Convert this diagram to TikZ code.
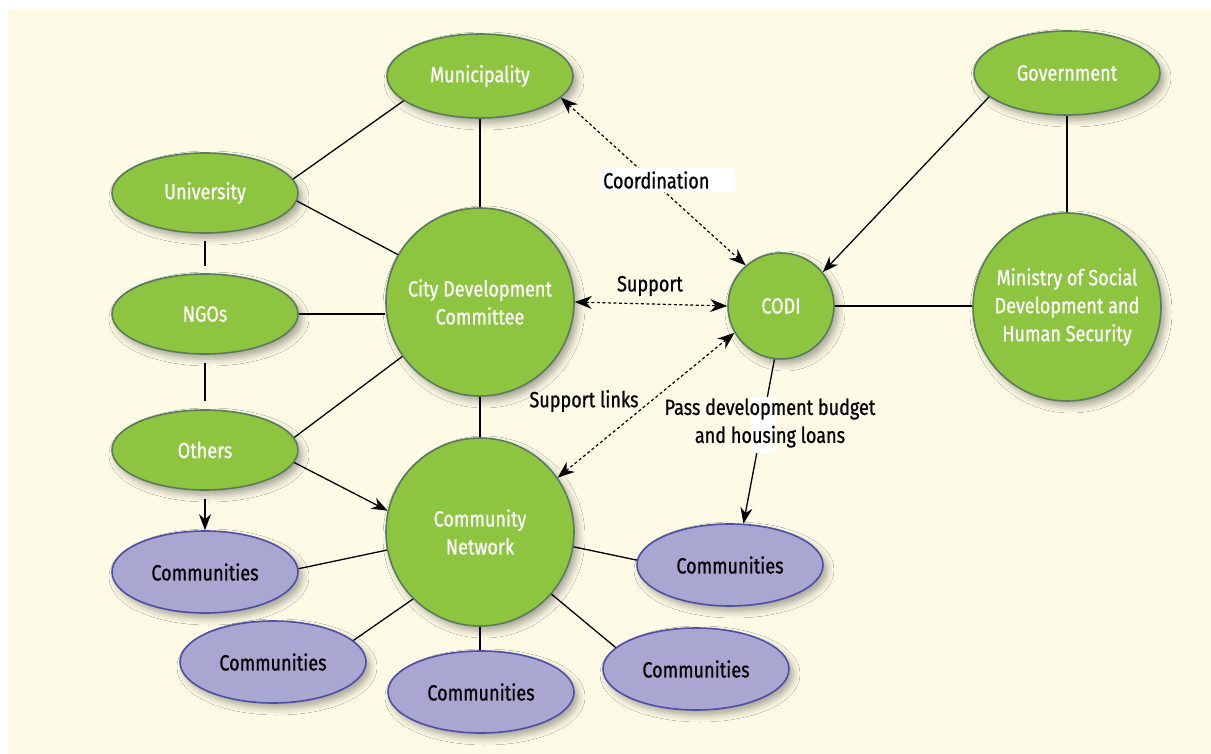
\documentclass[tikz,border=0pt]{standalone}
\usepackage{fontspec}
\setmainfont{Fira Sans}[FakeStretch=0.82,FakeBold=0.8]
\usetikzlibrary{arrows.meta,shapes.geometric,shadows.blur}
\definecolor{bg}{HTML}{FDFAE6}
\definecolor{gfill}{HTML}{8DC540}
\definecolor{gdraw}{HTML}{5B7B5A}
\definecolor{pfill}{HTML}{A9A7D1}
\definecolor{pdraw}{HTML}{4C4FA3}
\tikzset{
  txt/.style={font=\fontsize{22}{28}\selectfont},
  shad/.style={blur shadow={shadow xshift=4pt, shadow yshift=-5pt, shadow blur radius=7pt, shadow opacity=35}},
  gell/.style={ellipse, shad, fill=gfill, draw=gdraw, line width=1.6pt, minimum width=186pt, minimum height=84pt, inner sep=0pt, text=white, txt, align=center},
  gcirc/.style={circle, shad, fill=gfill, draw=gdraw, line width=1.6pt, inner sep=0pt, text=white, txt, align=center},
  pell/.style={ellipse, shad, fill=pfill, draw=pdraw, line width=1.6pt, minimum width=186pt, minimum height=82pt, inner sep=0pt, text=black, txt},
  conn/.style={black, line width=1.3pt},
  arr/.style={conn, -{Stealth[length=16pt,width=12pt]}},
  darr/.style={black, line width=1.2pt, dash pattern=on 3pt off 2.5pt, {Stealth[length=17pt,width=13pt]}-{Stealth[length=17pt,width=13pt]}},
  lbl/.style={txt, text=black, inner sep=0pt}
}
\begin{document}
\begin{tikzpicture}[x=1pt,y=-1pt]
\useasboundingbox (0,0) rectangle (1211,754);
\fill[bg] (8,10) rectangle (1211,754);
% nodes
\node[gell] (muni) at (480,76) {Municipality};
\node[gell] (gov) at (1067,73) {Government};
\node[gell, minimum height=80pt] (univ) at (205,193) {University};
\node[gell, minimum height=80pt] (ngo) at (205,314) {NGOs};
\node[gell, minimum height=80pt] (oth) at (205,450) {Others};
\node[gcirc, minimum size=188pt] (cdc) at (480,302) {City Development\\Committee};
\node[gcirc, minimum size=188pt] (cn) at (480,532) {Community\\Network};
\node[gcirc, minimum size=106pt] (codi) at (781,306) {CODI};
\node[gcirc, minimum size=188pt] (min) at (1067,307) {Ministry of Social\\Development and\\Human Security};
\node[pell] (cl) at (205,572) {Communities};
\node[pell] (cr) at (730,565) {Communities};
\node[pell] (cbl) at (273,662) {Communities};
\node[pell] (cbc) at (481,692) {Communities};
\node[pell] (cbr) at (696,669) {Communities};
% solid connectors
\draw[conn] (muni.south) -- (cdc.north);
\draw[conn] (muni.198) -- (univ.9);
\draw[conn] (univ.-5) -- (cdc.150);
\draw[conn, shorten <=7pt, shorten >=7pt] (univ.south) -- (ngo.north);
\draw[conn] (ngo.east) -- (ngo.east -| cdc.west);
\draw[conn, shorten <=8pt, shorten >=8pt] (ngo.south) -- (oth.north);
\draw[conn] (oth.8) -- (cdc.215);
\draw[arr] (oth.-8) -- (cn.167);
\draw[arr, shorten <=8pt] (oth.south) -- (cl.north);
\draw[conn] (cdc.south) -- (cn.north);
\draw[conn] (cn.191) -- (cl.2);
\draw[conn] (cn.225) -- (cbl.15);
\draw[conn] (cn.south) -- (cn.south |- cbc.north);
\draw[conn] (cn.-41) -- (cbr.165);
\draw[conn] (cn.-9) -- (cr.177);
\draw[conn] (gov.south) -- (min.north);
\draw[conn] (codi.east) -- (codi.east -| min.west);
\draw[arr] (gov.197) -- (codi.39);
\draw[arr] (codi.263) -- (cr.72);
% dashed connectors
\draw[darr] (muni.-15) -- (codi.131);
\draw[darr] (cdc.east) -- (codi.west);
\draw[darr] (cn.35) -- (codi.210);
% labels
\node[lbl, fill=white, anchor=west, text width=129pt, inner xsep=3pt, minimum height=24pt, align=left] (lcoord) at (600,180) {Coordination};
\node[lbl] (lsup) at (650,286) {Support};
\node[lbl] (lsl) at (584,401) {Support links};
\node[fill=white, minimum width=25pt, minimum height=56pt, inner sep=0pt] (patch) at (763.5,425) {};
\node[lbl, align=center] (lpass) at (770,423) {Pass development budget\\and housing loans};
\end{tikzpicture}
\end{document}
